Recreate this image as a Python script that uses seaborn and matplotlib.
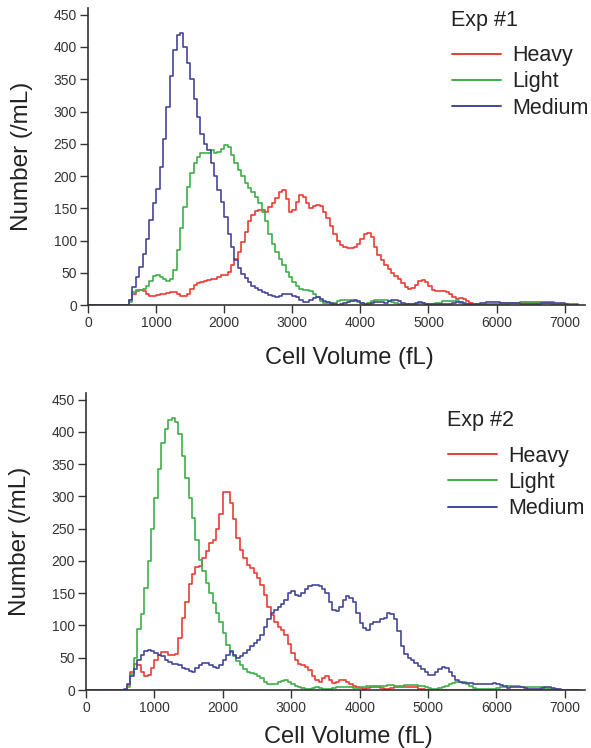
"""
Cell volume distributions (Heavy / Light / Medium) for two experiments,
drawn as step histograms in two stacked panels.
"""

import numpy as np
import pandas as pd
import matplotlib
matplotlib.use('Agg')
import matplotlib.pyplot as plt
import seaborn as sns

# histogram bins: 50 fL wide, counts listed from 550 fL upward
bin_width = 50
first_bin = 550
x_max = 7200

sample_names = ['Heavy', 'Light', 'Medium']
sample_colors = {'Heavy': '#ec3b33', 'Light': '#3fae49', 'Medium': '#45459b'}
panel_titles = ['Exp #1', 'Exp #2']

x_ticks = [0, 1000, 2000, 3000, 4000, 5000, 6000, 7000]
y_ticks = [0, 50, 100, 150, 200, 250, 300, 350, 400, 450]

# Exp #1
exp1_heavy = [
    0, 8, 18, 22, 23, 22, 18, 15, 15, 16,
    18, 18, 19, 21, 21, 18, 15, 15, 18, 25,
    31, 35, 36, 37, 39, 40, 40, 44, 46, 46,
    52, 62, 72, 82, 98, 114, 130, 140, 146, 148,
    147, 144, 152, 158, 166, 176, 178, 165, 145, 148,
    160, 170, 168, 158, 150, 154, 155, 154, 145, 135,
    122, 110, 100, 93, 90, 88, 88, 90, 95, 102,
    110, 112, 105, 90, 78, 70, 62, 56, 50, 45,
    40, 34, 28, 25, 26, 32, 37, 39, 36, 29,
    24, 22, 22, 22, 21, 17, 12, 10, 11, 10,
    7, 4, 2, 2, 2, 2, 2, 2, 2, 2,
    3, 3, 3, 3, 3, 3, 5, 5, 5, 5,
    5, 5, 5, 5, 5, 5, 2, 2, 2, 2,
    2, 2, 2,
]
exp1_light = [
    0, 5, 20, 23, 23, 25, 30, 38, 45, 46,
    44, 40, 38, 40, 55, 85, 120, 152, 183, 205,
    220, 230, 235, 236, 236, 240, 236, 238, 242, 248,
    245, 232, 220, 210, 200, 190, 182, 175, 168, 158,
    145, 130, 110, 95, 82, 72, 62, 52, 44, 36,
    30, 25, 23, 23, 22, 18, 12, 7, 4, 3,
    2, 4, 6, 8, 8, 8, 8, 7, 5, 3,
    2, 4, 7, 8, 8, 8, 8, 7, 5, 3,
    2, 2, 2, 2, 2, 2, 3, 3, 2, 2,
    2, 3, 4, 6, 7, 7, 7, 6, 4, 2,
    2, 2, 2, 1, 1, 1, 1, 1, 2, 2,
    2, 2, 2, 3, 4, 4, 4, 4, 4, 4,
    4, 4, 4, 4, 3, 2, 2, 1, 1, 1,
    1,
]
exp1_medium = [
    0, 8, 28, 44, 59, 80, 103, 132, 158, 180,
    214, 258, 307, 355, 395, 418, 421, 400, 375, 350,
    320, 292, 265, 250, 240, 220, 200, 178, 160, 137,
    111, 90, 70, 58, 49, 42, 36, 30, 26, 23,
    21, 19, 16, 14, 13, 15, 17, 18, 18, 15,
    13, 8, 5, 5, 8, 11, 13, 10, 7, 5,
    3, 2, 1, 2, 3, 5, 7, 8, 7, 4,
    2, 2, 3, 5, 5, 5, 4, 6, 8, 8,
    7, 4, 2, 2, 2, 3, 5, 4, 2, 2,
    2, 2, 2, 2, 2, 2, 3, 5, 5, 4,
    2, 2, 2, 2, 3, 4, 5, 5, 5, 5,
    4, 3, 3, 3, 3, 3, 2, 2, 2, 2,
    2, 2, 3, 4, 4, 4, 4, 4, 3, 2,
    1,
]

# Exp #2
exp2_heavy = [
    0, 8, 28, 40, 38, 28, 21, 24, 34, 46,
    54, 59, 59, 55, 54, 56, 80, 111, 137, 165,
    180, 190, 192, 205, 215, 228, 232, 250, 272, 307,
    307, 290, 265, 235, 217, 204, 194, 189, 181,
    173, 163, 147, 129, 116, 106, 98, 93, 85, 72,
    57, 46, 41, 39, 36, 31, 21, 15, 13, 18,
    21, 15, 11, 12, 15, 15, 13, 10, 7, 5,
    3, 2, 3, 5, 5, 4, 3, 2, 2, 3,
    4, 5, 5, 5, 4, 5, 4, 2, 1,
]
exp2_light = [
    0, 5, 25, 50, 95, 118, 158, 200, 250,
    298, 342, 382, 405, 418, 421, 415, 396, 362, 328,
    297, 266, 232, 202, 184, 166, 150, 135, 120, 105,
    88, 70, 59, 52, 45, 38, 32, 28, 27, 25,
    22, 18, 13, 10, 9, 10, 12, 14, 15, 13,
    10, 7, 5, 3, 2, 2, 3, 4, 3, 2,
    2, 2, 3, 4, 5, 5, 5, 4, 3, 3,
    4, 5, 6, 6, 6, 6, 6, 7, 8, 8,
    7, 6, 7, 8, 8, 8, 8, 7, 6, 5,
    3, 2, 2, 3, 5, 7, 9, 11, 13, 13,
    12, 9, 6, 3, 1, 1, 1, 1, 1, 2,
    3, 4, 5, 6, 7, 7, 6, 5, 4, 4,
    5, 5, 5, 4, 3, 2, 1, 1,
]
exp2_medium = [
    2, 10, 22, 32, 46, 55, 60, 62, 60, 57,
    54, 52, 47, 44, 41, 41, 39, 34, 32, 29,
    28, 34, 39, 42, 42, 38, 35, 34, 38, 46,
    54, 60, 55, 50, 52, 57, 62, 68, 73, 78,
    85, 97, 110, 120, 124, 128, 133, 140, 150, 153,
    147, 146, 151, 157, 161, 163, 163, 161, 157, 150,
    136, 124, 122, 128, 140, 146, 143, 136, 120, 104,
    96, 93, 102, 106, 106, 110, 112, 120, 118, 110,
    92, 68, 56, 50, 46, 42, 37, 32, 28, 24,
    23, 28, 33, 36, 34, 28, 22, 15, 12, 11,
    11, 11, 10, 10, 10, 9, 9, 10, 11, 10,
    8, 6, 3, 4, 5, 5, 4, 3, 2, 2,
    2, 2, 3, 4, 5, 3, 2, 1,
]

experiments = [
    {'Heavy': exp1_heavy, 'Light': exp1_light, 'Medium': exp1_medium},
    {'Heavy': exp2_heavy, 'Light': exp2_light, 'Medium': exp2_medium},
]


def build_frame(series):
    """Long table with one row per bin edge, zero outside the listed range."""
    n_bins = x_max // bin_width
    i0 = first_bin // bin_width
    edges = np.arange(n_bins + 1) * bin_width
    rows = []
    for name in sample_names:
        vals = series[name][:n_bins - i0]
        counts = np.zeros(n_bins + 1)
        counts[i0:i0 + len(vals)] = vals
        rows.append(pd.DataFrame({'volume': edges, 'number': counts, 'sample': name}))
    return pd.concat(rows, ignore_index=True)


sns.set_style('ticks')
plt.rcParams['font.family'] = ['Liberation Sans', 'DejaVu Sans']

fig = plt.figure(figsize=(5.91, 7.48), dpi=100)
ax_boxes = [[0.149, 0.592, 0.841, 0.397],
            [0.1455, 0.0775, 0.845, 0.397]]
# legend anchors and title positions in figure fractions
legend_anchors = [(0.7496, 0.951), (0.743, 0.4155)]
title_pos = [(0.763, 0.973), (0.756, 0.4385)]
xlabel_pads = [12, 8]

for k, series in enumerate(experiments):
    ax = fig.add_axes(ax_boxes[k])
    df = build_frame(series)
    sns.lineplot(data=df, x='volume', y='number', hue='sample',
                 hue_order=sample_names, palette=sample_colors,
                 estimator=None, drawstyle='steps-post', linewidth=1.2,
                 ax=ax)

    ax.set_xlim(0, 7300)
    ax.set_ylim(0, 460)
    ax.set_xticks(x_ticks)
    ax.set_yticks(y_ticks)
    ax.tick_params(axis='both', length=6, width=1.0, pad=2,
                   labelsize=10, colors='#333333', labelcolor='#333333')
    sns.despine(ax=ax)
    for side in ['left', 'bottom']:
        ax.spines[side].set_linewidth(1.2)
        ax.spines[side].set_color('#333333')

    ax.set_xlabel('Cell Volume (fL)', fontsize=17, color='#222222',
                  labelpad=xlabel_pads[k], x=0.525)
    ax.set_ylabel('Number (/mL)', fontsize=17.5, color='#222222')
    ax.yaxis.set_label_coords(-0.111, 0.5)

    handles, labels = ax.get_legend_handles_labels()
    leg = ax.legend(handles, labels, loc='upper left',
                    bbox_to_anchor=legend_anchors[k],
                    bbox_transform=fig.transFigure,
                    frameon=False, fontsize=15.5,
                    handlelength=2.3, handletextpad=0.5, labelspacing=0.24,
                    borderaxespad=0.0)
    for line in leg.get_lines():
        line.set_linewidth(1.4)
    for txt in leg.get_texts():
        txt.set_color('#222222')
    fig.text(title_pos[k][0], title_pos[k][1], panel_titles[k],
             fontsize=15.5, color='#222222', ha='left', va='center')

fig.savefig('out.png', dpi=100)
plt.close(fig)
